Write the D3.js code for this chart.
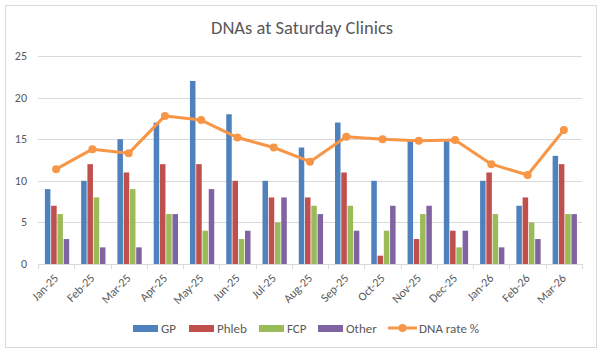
<!DOCTYPE html>
<html>
<head>
<meta charset="utf-8">
<script src="https://cdn.jsdelivr.net/npm/d3@7"></script>
<style>
  body { margin: 0; background: #fff; }
  svg { font-family: Calibri, Carlito, "Liberation Sans", Arial, sans-serif; }
</style>
</head>
<body>
<svg id="chart" width="605" height="357"></svg>
<script>
const months = ["Jan-25","Feb-25","Mar-25","Apr-25","May-25","Jun-25","Jul-25","Aug-25","Sep-25","Oct-25","Nov-25","Dec-25","Jan-26","Feb-26","Mar-26"];
const gp    = [9, 10, 15, 17, 22, 18, 10, 14, 17, 10, 15, 15, 10, 7, 13];
const phleb = [7, 12, 11, 12, 12, 10, 8, 8, 11, 1, 3, 4, 11, 8, 12];
const fcp   = [6, 8, 9, 6, 4, 3, 5, 7, 7, 4, 6, 2, 6, 5, 6];
const other = [3, 2, 2, 6, 9, 4, 8, 6, 4, 7, 7, 4, 2, 3, 6];
const dnaRate = [11.4, 13.8, 13.3, 17.8, 17.3, 15.2, 14.0, 12.3, 15.3, 15.0, 14.8, 14.9, 12.0, 10.7, 16.1];
const yTicks = [0, 5, 10, 15, 20, 25];

const series = [
  { name: "GP", values: gp, color: "#4f81bd" },
  { name: "Phleb", values: phleb, color: "#c0504d" },
  { name: "FCP", values: fcp, color: "#9bbb59" },
  { name: "Other", values: other, color: "#8064a2" }
];
const lineColor = "#f79646";

const svg = d3.select("#chart");
const margin = { top: 56, right: 23, bottom: 93, left: 38 };
const width = 605 - margin.left - margin.right;
const height = 357 - margin.top - margin.bottom;

// chart frame
svg.append("rect")
  .attr("x", 5.5).attr("y", 5.5)
  .attr("width", 591).attr("height", 342)
  .attr("fill", "#fff").attr("stroke", "#d9d9d9");

svg.append("text")
  .attr("x", 302).attr("y", 34)
  .attr("text-anchor", "middle")
  .attr("font-size", 18.5)
  .attr("fill", "#595959")
  .text("DNAs at Saturday Clinics");

const chart = svg.append("g").attr("transform", `translate(${margin.left},${margin.top})`);

const x = d3.scaleBand().domain(months).range([0, width]);
const y = d3.scaleLinear().domain([0, 25]).range([height, 0]);
const inner = d3.scaleBand().domain(series.map(s => s.name))
  .range([x.bandwidth() * 0.19, x.bandwidth() * 0.86]).paddingInner(0.12);

// gridlines
chart.selectAll(".grid")
  .data(yTicks.filter(d => d > 0))
  .enter().append("line")
  .attr("x1", 0).attr("x2", width)
  .attr("y1", d => Math.round(y(d)) + 0.5).attr("y2", d => Math.round(y(d)) + 0.5)
  .attr("stroke", "#d9d9d9");

// y labels
chart.selectAll(".ylab")
  .data(yTicks)
  .enter().append("text")
  .attr("x", -11).attr("y", d => y(d) + 4)
  .attr("text-anchor", "end")
  .attr("font-size", 12)
  .attr("fill", "#595959")
  .text(d => d);

// bars
series.forEach(s => {
  chart.selectAll(".bar-" + s.name)
    .data(s.values)
    .enter().append("rect")
    .attr("x", (d, i) => x(months[i]) + inner(s.name))
    .attr("y", d => y(d))
    .attr("width", inner.bandwidth())
    .attr("height", d => height - y(d))
    .attr("fill", s.color);
});

// x axis
const xAxis = chart.append("g").attr("transform", `translate(0,${height})`);
xAxis.append("line")
  .attr("x1", 0).attr("x2", width)
  .attr("y1", 0.5).attr("y2", 0.5)
  .attr("stroke", "#d9d9d9");
xAxis.selectAll(".tick")
  .data(d3.range(months.length + 1))
  .enter().append("line")
  .attr("x1", i => Math.round(i * x.step()) + 0.5)
  .attr("x2", i => Math.round(i * x.step()) + 0.5)
  .attr("y1", 0).attr("y2", 5)
  .attr("stroke", "#d9d9d9");
xAxis.selectAll(".xlab")
  .data(months)
  .enter().append("text")
  .attr("transform", d => `translate(${x(d) + x.bandwidth() / 2 + 3},${15}) rotate(-45)`)
  .attr("text-anchor", "end")
  .attr("font-size", 12)
  .attr("fill", "#595959")
  .text(d => d);

// DNA rate line
const line = d3.line()
  .x((d, i) => x(months[i]) + x.bandwidth() / 2)
  .y(d => y(d));
chart.append("path")
  .datum(dnaRate)
  .attr("fill", "none")
  .attr("stroke", lineColor)
  .attr("stroke-width", 3)
  .attr("stroke-linejoin", "round")
  .attr("d", line);
chart.selectAll(".pt")
  .data(dnaRate)
  .enter().append("circle")
  .attr("cx", (d, i) => x(months[i]) + x.bandwidth() / 2)
  .attr("cy", d => y(d))
  .attr("r", 4)
  .attr("fill", lineColor);

// legend
const legend = svg.append("g").attr("transform", "translate(0,328)");
const legendItems = [
  { name: "GP", x: 133, color: series[0].color },
  { name: "Phleb", x: 189, color: series[1].color },
  { name: "FCP", x: 259, color: series[2].color },
  { name: "Other", x: 318, color: series[3].color }
];
legendItems.forEach(l => {
  legend.append("rect")
    .attr("x", l.x).attr("y", -3)
    .attr("width", 25).attr("height", 7)
    .attr("fill", l.color);
  legend.append("text")
    .attr("x", l.x + 28).attr("y", 5)
    .attr("font-size", 13)
    .attr("fill", "#595959")
    .text(l.name);
});
legend.append("line")
  .attr("x1", 388).attr("x2", 417)
  .attr("y1", 0).attr("y2", 0)
  .attr("stroke", lineColor).attr("stroke-width", 3);
legend.append("circle")
  .attr("cx", 402.5).attr("cy", 0).attr("r", 4)
  .attr("fill", lineColor);
legend.append("text")
  .attr("x", 419).attr("y", 5)
  .attr("font-size", 13)
  .attr("fill", "#595959")
  .text("DNA rate %");
</script>
</body>
</html>
